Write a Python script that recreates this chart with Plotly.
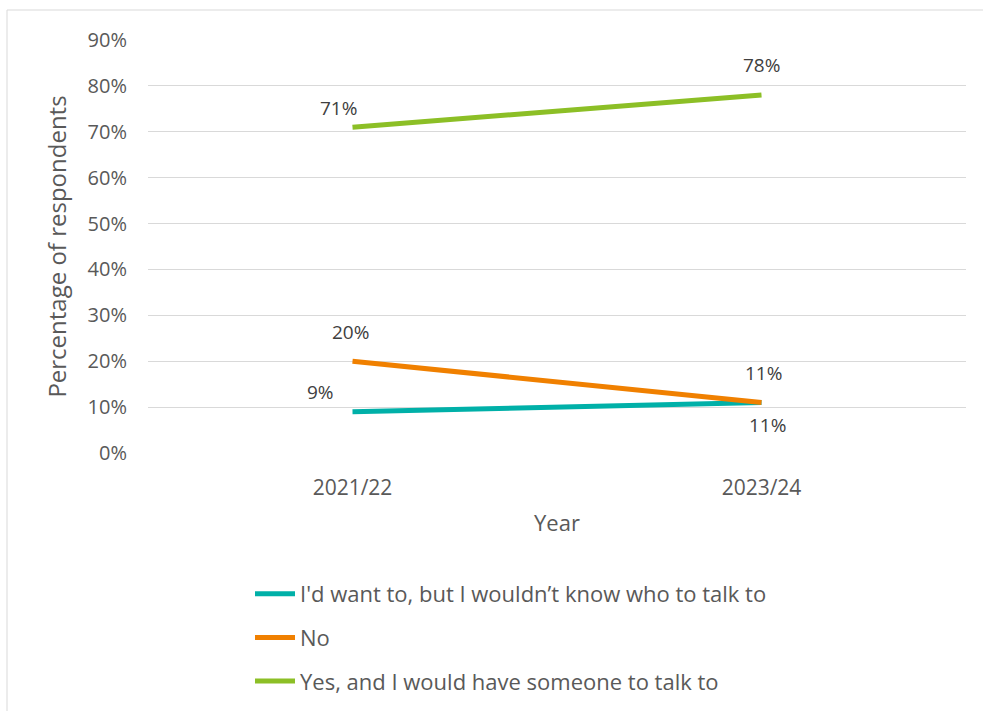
import plotly.graph_objects as go

# Survey responses by year
years = ["2021/22", "2023/24"]
series_names = [
    "I'd want to, but I wouldn\u2019t know who to talk to",
    "No",
    "Yes, and I would have someone to talk to",
]
want_no_contact = [0.09, 0.11]
no_values = [0.20, 0.11]
yes_values = [0.71, 0.78]
y_ticks = [0.0, 0.1, 0.2, 0.3, 0.4, 0.5, 0.6, 0.7, 0.8, 0.9]

colors = ["#00B0A8", "#F08000", "#8CBF26"]
values = [want_no_contact, no_values, yes_values]

# Label offsets (pixels) per series and point
label_shift = [
    [(-32, 20), (6, -22)],
    [(-2, 29), (2, 30)],
    [(-14, 19), (0, 30)],
]

FONT = "Open Sans"
TEXT = "#595959"

fig = go.Figure()
for i, (name, vals, col) in enumerate(zip(series_names, values, colors)):
    fig.add_trace(go.Scatter(
        x=years, y=vals, name=name, mode="lines",
        line=dict(color=col, width=5),
        legendgroup=f"g{i}",
        hoverinfo="skip",
    ))
    for j, (yr, v) in enumerate(zip(years, vals)):
        dx, dy = label_shift[i][j]
        fig.add_annotation(
            x=yr, y=v, text=f"{v*100:.0f}%", showarrow=False,
            xshift=dx, yshift=dy,
            font=dict(family=FONT, size=19, color="#404040"),
        )

L, R, T, B = 148, 17, 40, 258
W, H = 983, 711
pw, ph = W - L - R, H - T - B


def px_x(px):
    return (px - L) / pw


def px_y(py):
    return (H - B - py) / ph


# Outer chart-area border
fig.add_shape(
    type="rect", xref="paper", yref="paper",
    x0=px_x(7), x1=px_x(W + 5), y0=px_y(H + 5), y1=px_y(10),
    line=dict(color="#D9D9D9", width=1), fillcolor="rgba(0,0,0,0)",
)

fig.update_layout(
    width=W, height=H,
    margin=dict(l=L, r=R, t=T, b=B, autoexpand=False),
    plot_bgcolor="white", paper_bgcolor="white",
    font=dict(family=FONT, size=19, color=TEXT),
    showlegend=True,
    legend=dict(
        orientation="v", x=px_x(250), y=px_y(573),
        xanchor="left", yanchor="top",
        font=dict(family=FONT, size=22, color=TEXT),
        tracegroupgap=12, itemwidth=40,
        bgcolor="rgba(0,0,0,0)",
    ),
    xaxis=dict(
        type="category", range=[-0.5, 1.5],
        showgrid=False, showline=False, ticks="",
        ticklabelstandoff=20,
        tickfont=dict(family=FONT, size=21, color=TEXT),
        title=dict(text="Year", font=dict(family=FONT, size=22, color=TEXT), standoff=15),
    ),
    yaxis=dict(
        range=[0, 0.9], tickvals=y_ticks, tickformat=".0%",
        showgrid=True, gridcolor="#D9D9D9", gridwidth=1,
        zeroline=False, showline=False, ticks="",
        ticklabelstandoff=20,
        tickfont=dict(family=FONT, size=20, color=TEXT),
        title=dict(text="Percentage of respondents", font=dict(family=FONT, size=24, color=TEXT), standoff=14),
    ),
)

fig.write_html("out.html")
